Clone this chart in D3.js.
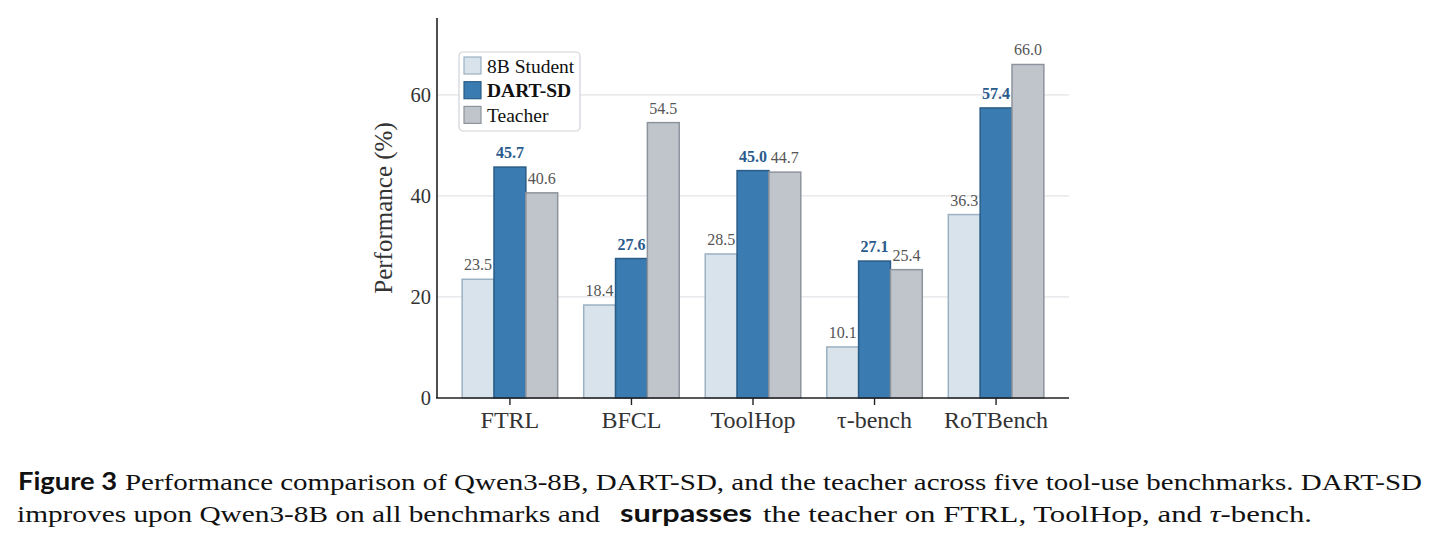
<!DOCTYPE html>
<html>
<head>
<meta charset="utf-8">
<script src="https://cdn.jsdelivr.net/npm/d3@7"></script>
<style>
  body { margin: 0; background: #fff; }
  svg text { font-family: "Liberation Serif", "DejaVu Serif", serif; }
</style>
</head>
<body>
<div id="chart-area"></div>
<script>
// data
var benchmarks = ["FTRL", "BFCL", "ToolHop", "\u03C4-bench", "RoTBench"];
var seriesNames = ["8B Student", "DART-SD", "Teacher"];
var student = [23.5, 18.4, 28.5, 10.1, 36.3];
var dartsd = [45.7, 27.6, 45.0, 27.1, 57.4];
var teacher = [40.6, 54.5, 44.7, 25.4, 66.0];
var yTicks = [0, 20, 40, 60];

var fills = ["#d8e3ec", "#3a7cb1", "#c0c4cb"];
var strokes = ["#9cb1c2", "#295b86", "#8d949d"];
var labelColors = ["#555555", "#2a5b8c", "#555555"];

var svg = d3.select("#chart-area").append("svg")
    .attr("width", 1442)
    .attr("height", 545);

var x = d3.scaleLinear()
    .domain([-0.6, benchmarks.length - 0.4])
    .range([437, 1069]);

var y = d3.scaleLinear()
    .domain([0, 75.2])
    .range([398, 18]);

var barW = 0.262;
var series = [student, dartsd, teacher];

// grid
svg.selectAll(".grid")
    .data(yTicks.filter((d)=>{return d > 0;}))
    .enter().append("line")
    .attr("x1", 437).attr("x2", 1069)
    .attr("y1", (d)=>{return y(d);})
    .attr("y2", (d)=>{return y(d);})
    .attr("stroke", "#e3e4ea")
    .attr("stroke-width", 1.2);

// bars
series.forEach((vals, s)=>{
    var off = (s - 1) * barW;
    svg.selectAll(".bar" + s)
        .data(vals)
        .enter().append("rect")
        .attr("x", (d, i)=>{return x(i + off - barW / 2);})
        .attr("width", x(barW) - x(0))
        .attr("y", (d)=>{return y(d);})
        .attr("height", (d)=>{return y(0) - y(d);})
        .attr("fill", fills[s])
        .attr("stroke", strokes[s])
        .attr("stroke-width", 1.5);

    svg.selectAll(".lab" + s)
        .data(vals)
        .enter().append("text")
        .attr("x", (d, i)=>{return x(i + off);})
        .attr("y", (d)=>{return y(d) - 9;})
        .attr("text-anchor", "middle")
        .attr("font-size", 16)
        .attr("font-weight", s == 1 ? "bold" : "normal")
        .attr("fill", labelColors[s])
        .text((d)=>{return d.toFixed(1);});
});

// axes
svg.append("line")
    .attr("x1", 437).attr("x2", 437)
    .attr("y1", 18).attr("y2", 398)
    .attr("stroke", "#222").attr("stroke-width", 1.6);
svg.append("line")
    .attr("x1", 436).attr("x2", 1069)
    .attr("y1", 398).attr("y2", 398)
    .attr("stroke", "#222").attr("stroke-width", 1.6);

svg.selectAll(".ytick")
    .data(yTicks)
    .enter().append("text")
    .attr("x", 431)
    .attr("y", (d)=>{return y(d) + 7;})
    .attr("text-anchor", "end")
    .attr("font-size", 20.5)
    .attr("fill", "#333")
    .text((d)=>{return d;});

svg.selectAll(".xtickmark")
    .data(benchmarks)
    .enter().append("line")
    .attr("x1", (d, i)=>{return x(i);})
    .attr("x2", (d, i)=>{return x(i);})
    .attr("y1", 398).attr("y2", 405)
    .attr("stroke", "#222").attr("stroke-width", 1.4);

svg.selectAll(".xtick")
    .data(benchmarks)
    .enter().append("text")
    .attr("x", (d, i)=>{return x(i);})
    .attr("y", 428)
    .attr("text-anchor", "middle")
    .attr("font-size", 24)
    .attr("fill", "#333")
    .text((d)=>{return d;});

svg.append("text")
    .attr("transform", "translate(392,208) rotate(-90)")
    .attr("text-anchor", "middle")
    .attr("font-size", 25)
    .attr("fill", "#333")
    .text("Performance (%)");

// legend
var lg = svg.append("g").attr("transform", "translate(459,52)");
lg.append("rect")
    .attr("width", 121).attr("height", 79)
    .attr("rx", 4)
    .attr("fill", "#fff")
    .attr("stroke", "#d0d3d8")
    .attr("stroke-width", 1.2);
seriesNames.forEach((name, s)=>{
    lg.append("rect")
        .attr("x", 5).attr("y", 5 + s * 24.7)
        .attr("width", 17).attr("height", 17)
        .attr("fill", fills[s])
        .attr("stroke", strokes[s])
        .attr("stroke-width", 1.2);
    lg.append("text")
        .attr("x", 28).attr("y", 20.7 + s * 24.7)
        .attr("font-size", 19.5)
        .attr("font-weight", s == 1 ? "bold" : "normal")
        .attr("fill", "#111")
        .text(name);
});

// caption
var sans = "Lato, 'Open Sans', sans-serif";
function capText(str, x0, x1, yy, bold) {
    var t = svg.append("text")
        .attr("x", x0).attr("y", yy)
        .attr("font-size", bold ? 24 : 23)
        .attr("font-weight", bold ? "bold" : "normal")
        .attr("fill", "#111")
        .attr("textLength", x1 - x0)
        .attr("lengthAdjust", "spacingAndGlyphs")
        .text(str);
    if (bold) t.style("font-family", sans);
}
capText("Figure 3", 18, 117, 490, true);
capText("Performance comparison of Qwen3-8B, DART-SD, and the teacher across five tool-use benchmarks. DART-SD", 125, 1422, 490, false);
capText("improves upon Qwen3-8B on all benchmarks and", 17, 600, 522, false);
capText("surpasses", 620, 752, 522, true);
var last = svg.append("text")
    .attr("x", 763).attr("y", 522)
    .attr("font-size", 23)
    .attr("fill", "#111")
    .attr("textLength", 1312 - 763)
    .attr("lengthAdjust", "spacingAndGlyphs");
last.append("tspan").text("the teacher on FTRL, ToolHop, and ");
last.append("tspan").attr("font-style", "italic").text("\u03C4");
last.append("tspan").text("-bench.");
</script>
</body>
</html>
